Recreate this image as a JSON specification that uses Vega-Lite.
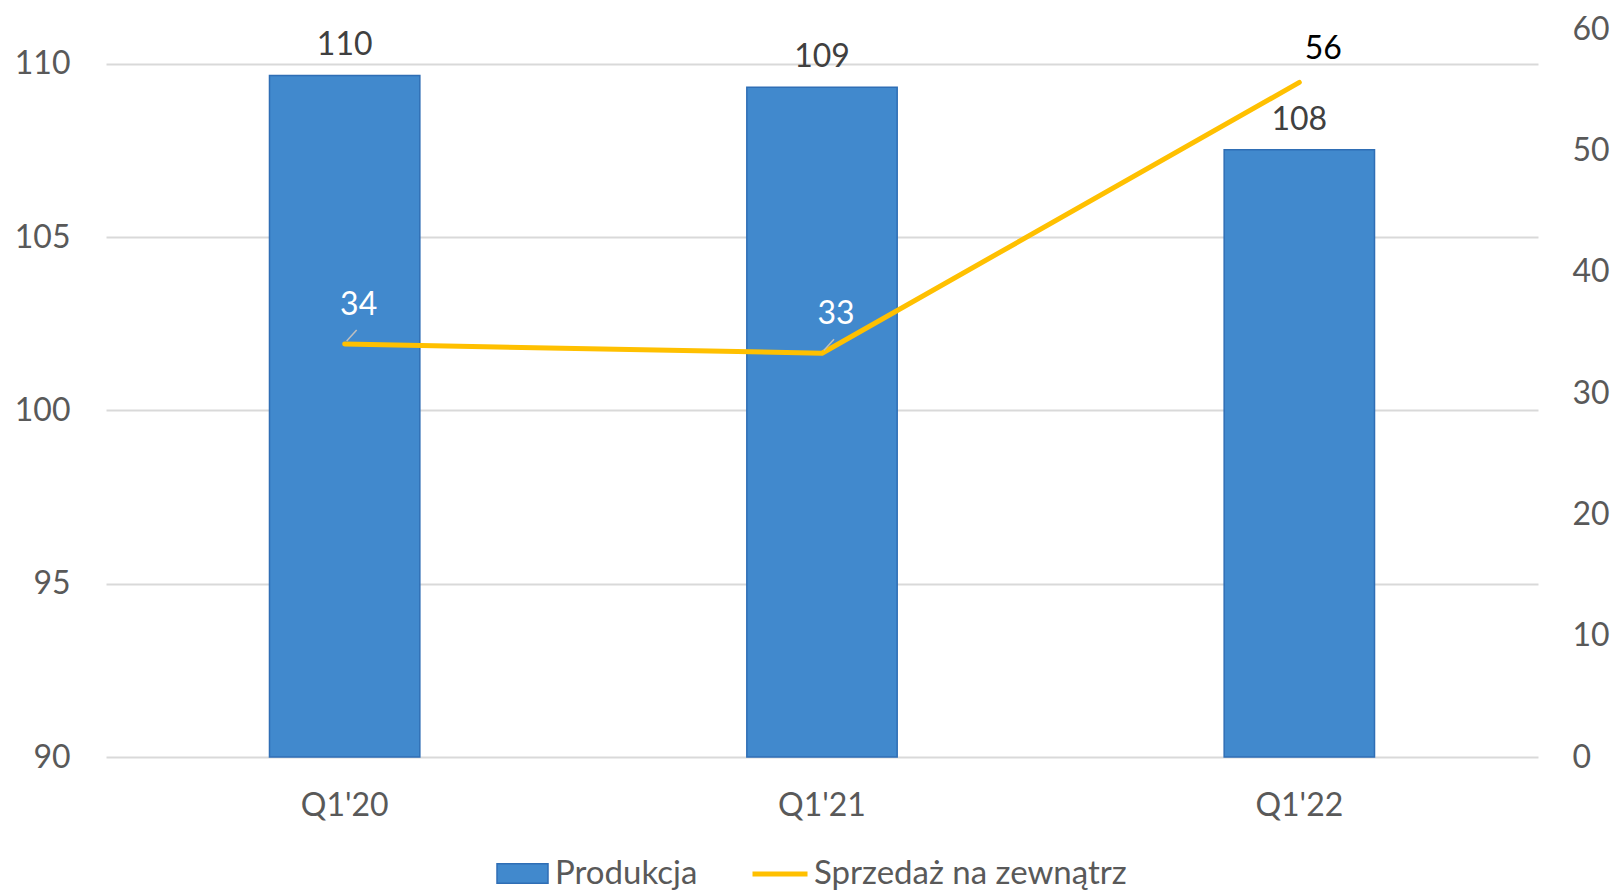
{
  "$schema": "https://vega.github.io/schema/vega-lite/v6.json",
  "width": 1432,
  "height": 728,
  "autosize": {"type": "none"},
  "padding": {"left": 106, "top": 29, "right": 78, "bottom": 137},
  "background": "white",
  "config": {
    "view": {"stroke": null},
    "font": "Lato",
    "axis": {"labelFont": "Lato", "labelFontSize": 32, "labelColor": "#595959", "ticks": false, "domain": false, "title": null}
  },
  "data": {
    "values": [
      {"q": "Q1'20", "prod": 109.66, "sales": 34.04},
      {"q": "Q1'21", "prod": 109.32, "sales": 33.28},
      {"q": "Q1'22", "prod": 107.52, "sales": 55.6}
    ]
  },
  "encoding": {
    "x": {
      "field": "q", "type": "nominal", "sort": null,
      "scale": {"paddingInner": 0.685, "paddingOuter": 0.3425},
      "axis": {"labelAngle": 0, "labelPadding": 33, "grid": false, "labelBaseline": "top"}
    }
  },
  "layer": [
    {
      "encoding": {
        "y": {
          "field": "prod", "type": "quantitative",
          "scale": {"domain": [90, 111], "nice": false, "zero": false},
          "axis": {"orient": "left", "values": [90, 95, 100, 105, 110], "grid": true, "gridColor": "#d9d9d9", "gridWidth": 2, "labelPadding": 36}
        }
      },
      "layer": [
        {
          "mark": {"type": "bar", "stroke": "#2F6EB5", "strokeWidth": 1.5},
          "encoding": {
            "y2": {"datum": 90},
            "color": {
              "datum": "Produkcja",
              "scale": {"domain": ["Produkcja"], "range": ["#4189CD"]},
              "legend": {
                "orient": "none", "legendX": 390, "legendY": 818, "title": null,
                "symbolType": "M-1,-0.38H1V0.38H-1Z", "symbolSize": 2601,
                "symbolStrokeColor": "#2F6EB5", "symbolStrokeWidth": 1.5, "symbolOpacity": 1,
                "labelFont": "Lato", "labelFontSize": 33, "labelColor": "#595959", "labelOffset": 6, "labelLimit": 0
              }
            }
          }
        },
        {
          "mark": {"type": "text", "font": "Lato", "fontSize": 32, "color": "#404040", "baseline": "middle", "dy": -30},
          "encoding": {"text": {"field": "prod", "type": "quantitative", "format": ".0f"}}
        }
      ]
    },
    {
      "encoding": {
        "y": {
          "field": "sales", "type": "quantitative",
          "scale": {"domain": [0, 60], "nice": false},
          "axis": {"orient": "right", "values": [0, 10, 20, 30, 40, 50, 60], "grid": false, "labelPadding": 34}
        }
      },
      "layer": [
        {
          "mark": {"type": "line", "strokeWidth": 5, "strokeCap": "round", "strokeJoin": "round"},
          "encoding": {
            "color": {
              "datum": "Sprzedaż na zewnątrz",
              "scale": {"domain": ["Sprzedaż na zewnątrz"], "range": ["#FFC000"]},
              "legend": {
                "orient": "none", "legendX": 644, "legendY": 815, "title": null,
                "symbolType": "stroke", "symbolSize": 3025, "symbolStrokeWidth": 5,
                "labelFont": "Lato", "labelFontSize": 33, "labelColor": "#595959", "labelOffset": 4, "labelLimit": 0
              }
            }
          }
        },
        {
          "transform": [{"filter": "datum.q !== \"Q1'22\""}],
          "mark": {"type": "rule", "color": "#bfbfbf", "strokeWidth": 1.5, "xOffset": 2, "yOffset": -3, "x2Offset": 12, "y2Offset": -14},
          "encoding": {"x2": {"field": "q"}, "y2": {"field": "sales"}}
        },
        {
          "transform": [{"filter": "datum.q !== \"Q1'22\""}],
          "mark": {"type": "text", "font": "Lato", "fontSize": 32, "baseline": "middle", "color": "#ffffff", "dx": 14, "dy": -39},
          "encoding": {"text": {"field": "sales", "type": "quantitative", "format": ".0f"}}
        },
        {
          "transform": [{"filter": "datum.q === \"Q1'22\""}],
          "mark": {"type": "text", "font": "Lato", "fontSize": 32, "baseline": "middle", "color": "#000000", "dx": 24, "dy": -33},
          "encoding": {"text": {"field": "sales", "type": "quantitative", "format": ".0f"}}
        }
      ]
    }
  ],
  "resolve": {"scale": {"y": "independent", "color": "independent"}, "legend": {"color": "independent"}}
}
